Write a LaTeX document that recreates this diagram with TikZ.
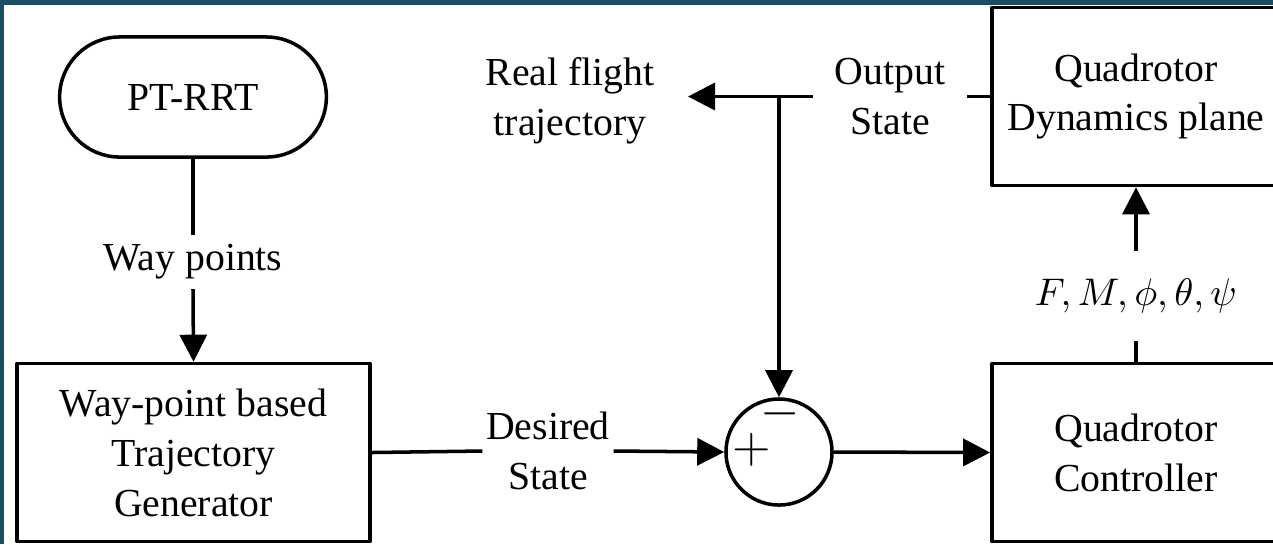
\documentclass[tikz,border=0pt]{standalone}
\usepackage{fontspec}
\setmainfont{Liberation Serif}
\usetikzlibrary{arrows.meta,shapes.misc}
\definecolor{slideteal}{HTML}{1B4E63}
\tikzset{
	blk/.style={draw,line width=1pt,align=center,minimum width=2.88cm,minimum height=1.78cm},
	lbl/.style={align=center,inner sep=0.08cm},
	sgn/.style={font=\fontsize{15}{15}\selectfont,inner sep=0pt}
}
\begin{document}
\begin{tikzpicture}[x=0.01cm,y=-0.01cm,>={Triangle[length=0.27cm,width=0.27cm]},line width=1pt,line join=round,font=\fontsize{11.3}{14.2}\selectfont]
	% page frame
	\fill[slideteal] (0,0) rectangle (1273,544);
	\fill[white] (4,5) rectangle (1273,544);
	\useasboundingbox (0,0) rectangle (1273,544);
	\clip (4,5) rectangle (1273,544);
	% blocks
	\node[draw,rounded rectangle,minimum width=2.9cm,minimum height=1.2cm] (rrt) at (193,97) {PT-RRT};
	\node[blk,minimum width=3.53cm] (gen) at (193.5,452.5) {Way-point based\\Trajectory\\Generator};
	\node[draw,circle,minimum size=1.06cm,inner sep=0pt] (sum) at (779,452) {};
	\node[blk] (ctrl) at (1136,452.5) {Quadrotor\\Controller};
	\node[blk] (dyn) at (1136,96.5) {Quadrotor\\Dynamics plane};
	\node[sgn] (plus) at (752,450) {$+$};
	\node[sgn] (minus) at (780,414) {$-$};
	% signal labels
	\node[lbl] (wp) at (193,262) {Way points};
	\node[lbl,inner xsep=0.02cm] (des) at (548,451) {Desired\\State};
	\node[lbl,inner xsep=0.2cm] (outst) at (890,96.5) {Output\\State};
	\node[lbl] (real) at (570,101) {Real flight\\trajectory};
	\node[lbl,inner ysep=0.26cm] (fm) at (1136,296) {$F,M,\phi,\theta,\psi$};
	\coordinate (rtip) at (688,96.5);
	\coordinate (tap) at (sum.north |- rtip);
	% connections
	\draw (rrt.south) -- (wp.north);
	\draw[->] (wp.south) -- (gen.north);
	\draw (gen.east) -- (des.west);
	\draw[->] (des.east) -- (sum.west);
	\draw[->] (sum.east) -- (ctrl.west);
	\draw (ctrl.north) -- (fm.south);
	\draw[->] (fm.north) -- (dyn.south);
	\draw (dyn.west) -- (outst.east);
	\draw[->] (outst.west) -- (rtip);
	\draw[->] (tap) -- (sum.north);
\end{tikzpicture}
\end{document}
